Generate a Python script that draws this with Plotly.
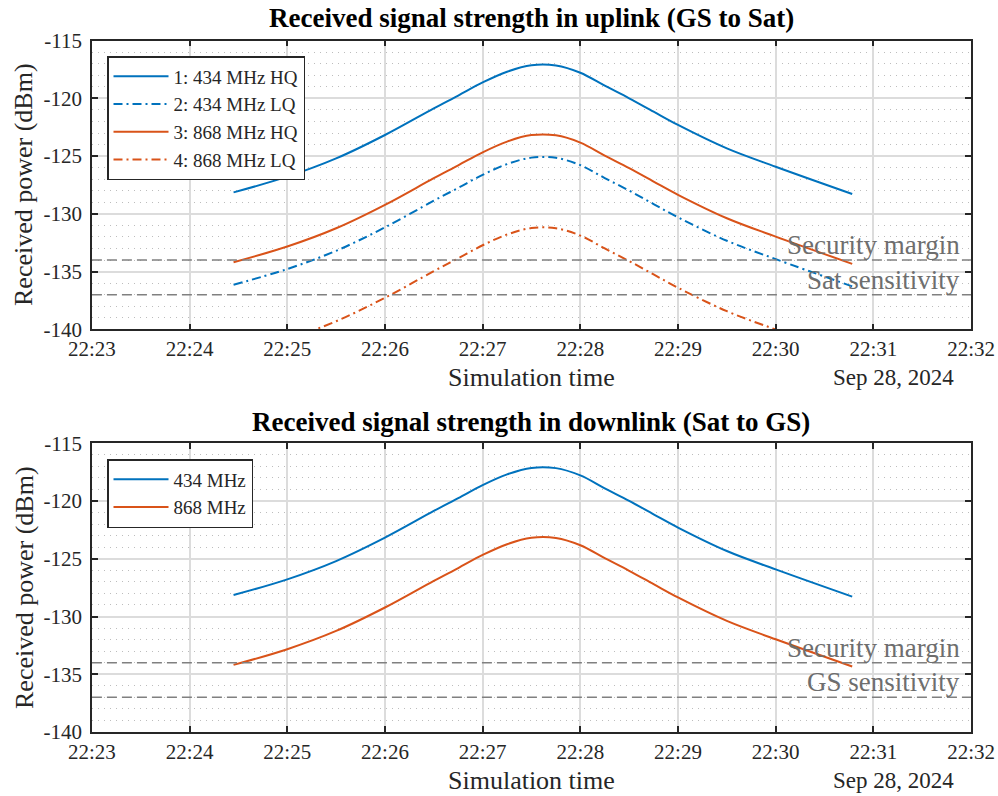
import plotly.graph_objects as go

# Pass timestamps (UTC) and received power samples in dBm
DAY = "2024-09-28 "
times = ["22:24:27", "22:25:00", "22:25:30", "22:26:00", "22:26:30", "22:26:45",
         "22:27:00", "22:27:15", "22:27:30", "22:27:45", "22:28:00", "22:28:15",
         "22:28:30", "22:28:45", "22:29:00", "22:29:30", "22:30:00", "22:30:47"]

up_434_hq = [-128.14, -126.78, -125.20, -123.17, -120.86, -119.75, -118.62, -117.69, -117.13,
             -117.15, -117.78, -118.90, -119.99, -121.15, -122.30, -124.33, -125.92, -128.28]
up_434_lq = [-136.14, -134.78, -133.20, -131.17, -128.86, -127.75, -126.62, -125.69, -125.13,
             -125.15, -125.78, -126.90, -127.99, -129.15, -130.30, -132.33, -133.92, -136.28]
up_868_hq = [-134.19, -132.83, -131.25, -129.22, -126.91, -125.80, -124.67, -123.74, -123.18,
             -123.20, -123.83, -124.95, -126.04, -127.20, -128.35, -130.38, -131.97, -134.33]
up_868_lq = [-142.24, -140.88, -139.30, -137.27, -134.96, -133.85, -132.72, -131.79, -131.23,
             -131.25, -131.88, -133.00, -134.09, -135.25, -136.40, -138.43, -140.02, -142.38]

down_434 = [-128.14, -126.78, -125.20, -123.17, -120.86, -119.75, -118.62, -117.69, -117.13,
            -117.15, -117.78, -118.90, -119.99, -121.15, -122.30, -124.33, -125.92, -128.28]
down_868 = [-134.19, -132.83, -131.25, -129.22, -126.91, -125.80, -124.67, -123.74, -123.18,
            -123.20, -123.83, -124.95, -126.04, -127.20, -128.35, -130.38, -131.97, -134.33]

security_margin = -134
sensitivity = -137

x_start, x_end = DAY + "22:23:00", DAY + "22:32:00"
y_ticks = [-140, -135, -130, -125, -120, -115]
y_tick_text = ["-140", "-135", "-130", "-125", "-120", "-115"]

BLUE = "#0072BD"
ORANGE = "#D95319"
AXIS = "#262626"
FONT = "Liberation Serif"
DASHDOT = "9px,4px,2px,4px"

t = [DAY + s for s in times]

fig = go.Figure()

def curve(y, name, color, dash, xa, ya, legend):
    fig.add_trace(go.Scatter(
        x=t, y=y, name=name, mode="lines", line_shape="spline",
        line=dict(color=color, width=2, dash=dash),
        xaxis=xa, yaxis=ya, legend=legend))

curve(up_434_hq, "1: 434 MHz HQ", BLUE, "solid", "x", "y", "legend")
curve(up_434_lq, "2: 434 MHz LQ", BLUE, DASHDOT, "x", "y", "legend")
curve(up_868_hq, "3: 868 MHz HQ", ORANGE, "solid", "x", "y", "legend")
curve(up_868_lq, "4: 868 MHz LQ", ORANGE, DASHDOT, "x", "y", "legend")
curve(down_434, "434 MHz", BLUE, "solid", "x2", "y2", "legend2")
curve(down_868, "868 MHz", ORANGE, "solid", "x2", "y2", "legend2")

# Threshold lines across each panel
for xa, ya in (("x", "y"), ("x2", "y2")):
    for level in (security_margin, sensitivity):
        fig.add_trace(go.Scatter(
            x=[x_start, x_end], y=[level, level], mode="lines",
            line=dict(color="#808080", width=1.5, dash="10px,5px"),
            xaxis=xa, yaxis=ya, showlegend=False, hoverinfo="skip"))

xaxis_style = dict(
    type="date", range=[x_start, x_end], tick0=x_start, dtick=60000,
    tickformat="%H:%M", ticks="inside", ticklen=6, tickwidth=1.5, tickcolor=AXIS,
    showline=True, linecolor=AXIS, linewidth=1.5, mirror="ticks", automargin=False,
    showgrid=True, gridcolor="#dcdcdc", gridwidth=1.5, zeroline=False,
    tickfont=dict(family=FONT, size=21, color=AXIS), domain=[0.0921, 0.973])
yaxis_style = dict(
    range=[-140, -115], tickvals=y_ticks, ticktext=y_tick_text,
    ticks="inside", ticklen=6, tickwidth=1.5, tickcolor=AXIS, automargin=False,
    showline=True, linecolor=AXIS, linewidth=1.5, mirror="ticks",
    showgrid=True, gridcolor="#dcdcdc", gridwidth=1.5, zeroline=False,
    ticklabelstandoff=4,
    minor=dict(dtick=1, tick0=-140, showgrid=True, gridcolor="#bdbdbd",
               griddash="1px,5px", gridwidth=1, ticks=""),
    tickfont=dict(family=FONT, size=21, color=AXIS))

legend_style = dict(xanchor="left", yanchor="top", bgcolor="white",
                    bordercolor=AXIS, borderwidth=1.5, itemwidth=55,
                    tracegroupgap=0, font=dict(family=FONT, size=19, color=AXIS))

fig.update_layout(
    width=998, height=796, margin=dict(l=0, r=0, t=0, b=0, autoexpand=False),
    paper_bgcolor="white", plot_bgcolor="white",
    font=dict(family=FONT, color=AXIS),
    xaxis=dict(xaxis_style, anchor="y"),
    yaxis=dict(yaxis_style, anchor="x", domain=[0.5863, 0.9489]),
    xaxis2=dict(xaxis_style, anchor="y2"),
    yaxis2=dict(yaxis_style, anchor="x2", domain=[0.0804, 0.4431]),
    legend=dict(legend_style, x=107 / 998, y=1 - 56 / 796),
    legend2=dict(legend_style, x=107 / 998, y=1 - 459 / 796),
)

ann = []

def label(text, xc, yc, size, color=AXIS, angle=0):
    ann.append(dict(text=text, x=xc / 998, y=1 - yc / 796, xref="paper", yref="paper",
                    xanchor="center", yanchor="middle", showarrow=False,
                    textangle=angle, font=dict(family=FONT, size=size, color=color)))

# Titles, axis labels and date labels
label("<b>Received signal strength in uplink (GS to Sat)</b>", 531, 18, 27, "black")
label("<b>Received signal strength in downlink (Sat to GS)</b>", 531, 422, 27, "black")
for ycen, ylab in ((377, 185), (780, 588)):
    label("Simulation time", 531, ycen, 26)
    label("Sep 28, 2024", 893, ycen, 23)
    label("Received power (dBm)", 24, ylab, 26, angle=-90)

# Threshold labels, right-aligned above each line
for xa, ya, sens_label in (("x", "y", "Sat sensitivity"), ("x2", "y2", "GS sensitivity")):
    for level, text in ((security_margin, "Security margin"), (sensitivity, sens_label)):
        ann.append(dict(text=text, x=0.99, y=level, xref=xa + " domain", yref=ya,
                        xanchor="right", yanchor="bottom", showarrow=False, yshift=-2,
                        font=dict(family=FONT, size=27, color="#6e6e6e")))

fig.update_layout(annotations=ann)

fig.write_html("out.html")
